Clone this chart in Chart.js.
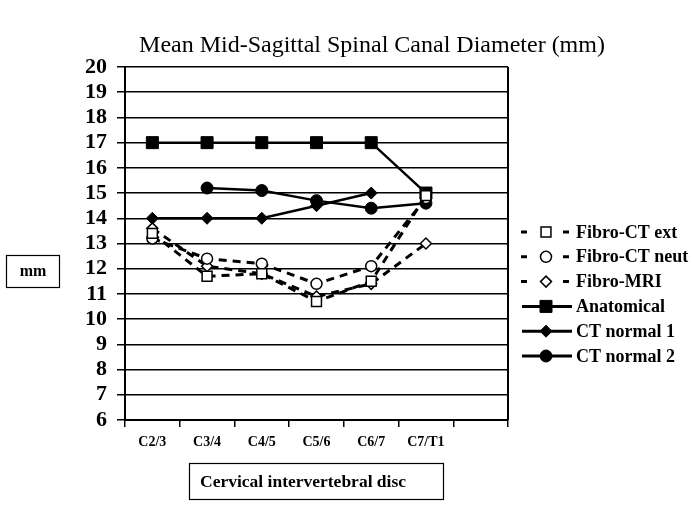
<!DOCTYPE html>
<html>
<head>
<meta charset="utf-8">
<script src="https://cdn.jsdelivr.net/npm/chart.js@4/dist/chart.umd.min.js"></script>
<style>
  body { margin: 0; background: #fff; }
  #wrap { width: 693px; height: 505px; position: relative; }
</style>
</head>
<body>
<div id="wrap"><canvas id="graph-area"></canvas></div>
<script>
// categories (last slot is empty, as in the original)
var discs = ["C2/3", "C3/4", "C4/5", "C5/6", "C6/7", "C7/T1", ""];

// series values (mm)
var fibroCtExt  = [13.4, 11.7, 11.8, 10.7, 11.5, 14.9, null];
var fibroCtNeut = [13.2, 12.4, 12.2, 11.4, 12.1, 14.8, null];
var fibroMri    = [13.6, 12.1, 11.8, 10.9, 11.4, 13.0, null];
var anatomical  = [17, 17, 17, 17, 17, 15, null];
var ctNormal1   = [14, 14, 14, 14.5, 15, null, null];
var ctNormal2   = [null, 15.2, 15.1, 14.7, 14.4, 14.6, null];

var yMin = 6, yMax = 20;

var serif = "'Liberation Serif', 'Times New Roman', serif";

function dashed(label, data, style, r) {
  return {
    label: label, data: data,
    borderColor: "#000", borderWidth: 3, borderDash: [8, 6],
    pointStyle: style, pointRadius: r, pointHoverRadius: r,
    pointBackgroundColor: "#fff", pointBorderColor: "#000", pointBorderWidth: 1.5,
    spanGaps: false, fill: false
  };
}
function solid(label, data, style, r) {
  return {
    label: label, data: data,
    borderColor: "#000", borderWidth: 2.5,
    pointStyle: style, pointRadius: r, pointHoverRadius: r,
    pointBackgroundColor: "#000", pointBorderColor: "#000", pointBorderWidth: 1,
    spanGaps: false, fill: false
  };
}

var mydata = {
  labels: discs,
  datasets: [
    dashed("Fibro-CT ext", fibroCtExt, "rect", 7),
    dashed("Fibro-CT neut", fibroCtNeut, "circle", 5.5),
    dashed("Fibro-MRI", fibroMri, "rectRot", 5.5),
    solid("Anatomical", anatomical, "rect", 8.5),
    solid("CT normal 1", ctNormal1, "rectRot", 6),
    solid("CT normal 2", ctNormal2, "circle", 6)
  ]
};

// boxes, title, legend
var extras = {
  id: "extras",
  afterDraw: function (chart) {
    var ctx = chart.ctx, a = chart.chartArea;
    ctx.save();
    // right border of the plot
    ctx.strokeStyle = "#000";
    ctx.lineWidth = 2;
    ctx.beginPath();
    ctx.moveTo(a.right, a.top);
    ctx.lineTo(a.right, a.bottom);
    ctx.stroke();

    // title
    ctx.fillStyle = "#000";
    ctx.font = "24px " + serif;
    ctx.textAlign = "center";
    ctx.textBaseline = "alphabetic";
    ctx.fillText("Mean Mid-Sagittal Spinal Canal Diameter (mm)", 372, 52);

    // "mm" box
    ctx.lineWidth = 1.2;
    ctx.strokeRect(6.5, 255.5, 53, 32);
    ctx.font = "bold 16px " + serif;
    ctx.textBaseline = "middle";
    ctx.fillText("mm", 33, 272);

    // x axis title box
    ctx.strokeRect(189.5, 463.5, 254, 36);
    ctx.textAlign = "left";
    ctx.font = "bold 17.5px " + serif;
    ctx.fillText("Cervical intervertebral disc", 200, 482);

    // legend
    var y0 = 232, step = 24.8;
    chart.data.datasets.forEach(function (ds, i) {
      var y = y0 + i * step;
      ctx.strokeStyle = "#000";
      ctx.lineWidth = 3;
      ctx.beginPath();
      if (ds.borderDash) {
        ctx.moveTo(521, y); ctx.lineTo(527, y);
        ctx.moveTo(563, y); ctx.lineTo(569, y);
      } else {
        ctx.moveTo(522, y); ctx.lineTo(572, y);
      }
      ctx.stroke();
      ctx.fillStyle = ds.pointBackgroundColor;
      ctx.strokeStyle = "#000";
      ctx.lineWidth = ds.pointBorderWidth;
      Chart.helpers.drawPoint(ctx, {
        pointStyle: ds.pointStyle, radius: ds.pointRadius, rotation: 0,
        borderWidth: ds.pointBorderWidth
      }, 546, y);
      ctx.fillStyle = "#000";
      ctx.font = "bold 18px " + serif;
      ctx.textAlign = "left";
      ctx.textBaseline = "middle";
      ctx.fillText(ds.label, 576, y + 1);
    });
    ctx.restore();
  }
};

var options = {
  responsive: true,
  maintainAspectRatio: false,
  animation: false,
  layout: { padding: { top: 67, right: 185, left: 0, bottom: 0 } },
  plugins: { legend: { display: false }, title: { display: false }, tooltip: { enabled: false } },
  scales: {
    x: {
      offset: true,
      grid: { offset: true, drawOnChartArea: false, drawTicks: true, tickLength: 7, color: "#000", lineWidth: 1.5 },
      border: { color: "#000", width: 2 },
      ticks: { font: { family: serif, weight: "bold", size: 14 }, color: "#000", padding: 7, maxRotation: 0, autoSkip: false },
      afterFit: function (s) { s.height = 85; }
    },
    y: {
      min: yMin, max: yMax,
      grid: { color: "#000", lineWidth: 1.5, tickLength: 8 },
      border: { color: "#000", width: 2 },
      ticks: { stepSize: 1, autoSkip: false, font: { family: serif, weight: "bold", size: 22 }, color: "#000", padding: 10 },
      afterFit: function (s) { s.width = 125; }
    }
  }
};

var canvas = document.getElementById("graph-area");
var chart = new Chart(canvas, {
  type: "line",
  data: mydata,
  options: options,
  plugins: [extras]
});
</script>
</body>
</html>
